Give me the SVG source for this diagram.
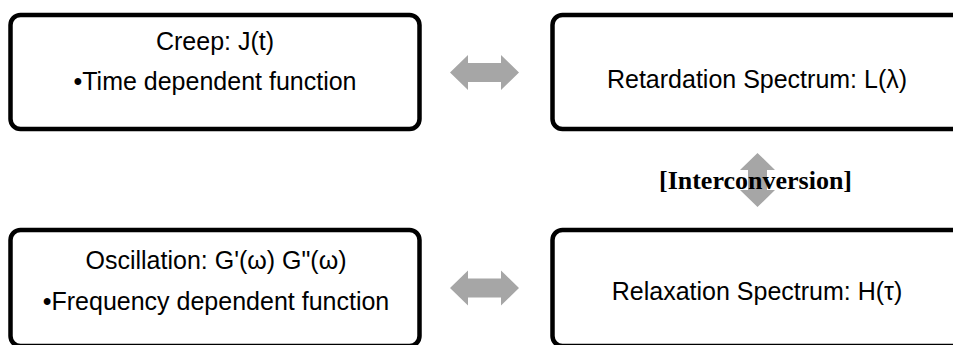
<svg xmlns="http://www.w3.org/2000/svg" width="953" height="345" viewBox="0 0 953 345">
  <style>
    .box { fill: #ffffff; stroke: #000000; stroke-width: 4.5; }
    .lbl { font-family: "Liberation Sans", Arial, sans-serif; font-size: 25px; fill: #000000; text-anchor: middle; }
    .arrow { fill: #a6a6a6; stroke: none; }
    .note { font-family: "Liberation Serif", "Times New Roman", serif; font-weight: bold; font-size: 26px; fill: #000000; text-anchor: middle; }
  </style>
  <rect width="953" height="345" fill="#ffffff"/>

  <g id="creep">
    <rect class="box" x="10.5" y="15" width="409" height="114" rx="10"/>
    <text class="lbl" x="215" y="50">Creep: J(t)</text>
    <text class="lbl" x="215" y="90">•Time dependent function</text>
  </g>

  <g id="retardation">
    <rect class="box" x="552.5" y="15" width="430" height="114" rx="10"/>
    <text class="lbl" x="757" y="88">Retardation Spectrum: L(λ)</text>
  </g>

  <g id="oscillation">
    <rect class="box" x="10.5" y="230" width="409" height="116" rx="10"/>
    <text class="lbl" x="216" y="269">Oscillation: G'(ω) G"(ω)</text>
    <text class="lbl" x="216" y="310">•Frequency dependent function</text>
  </g>

  <g id="relaxation">
    <rect class="box" x="552.5" y="230" width="430" height="116" rx="10"/>
    <text class="lbl" x="757" y="300">Relaxation Spectrum: H(τ)</text>
  </g>

  <g id="connectors">
    <path class="arrow" d="M450,72.5 L468,55 L468,63 L501,63 L501,55 L519,72.5 L501,90 L501,82 L468,82 L468,90 Z"/>
    <path class="arrow" d="M450,288 L468,270.5 L468,278.5 L501,278.5 L501,270.5 L519,288 L501,305.5 L501,297.5 L468,297.5 L468,305.5 Z"/>
    <path class="arrow" d="M757.5,153 L775,170 L767,170 L767,190 L775,190 L757.5,207 L740,190 L748,190 L748,170 L740,170 Z"/>
    <text class="note" x="755.5" y="189">[Interconversion]</text>
  </g>
</svg>
